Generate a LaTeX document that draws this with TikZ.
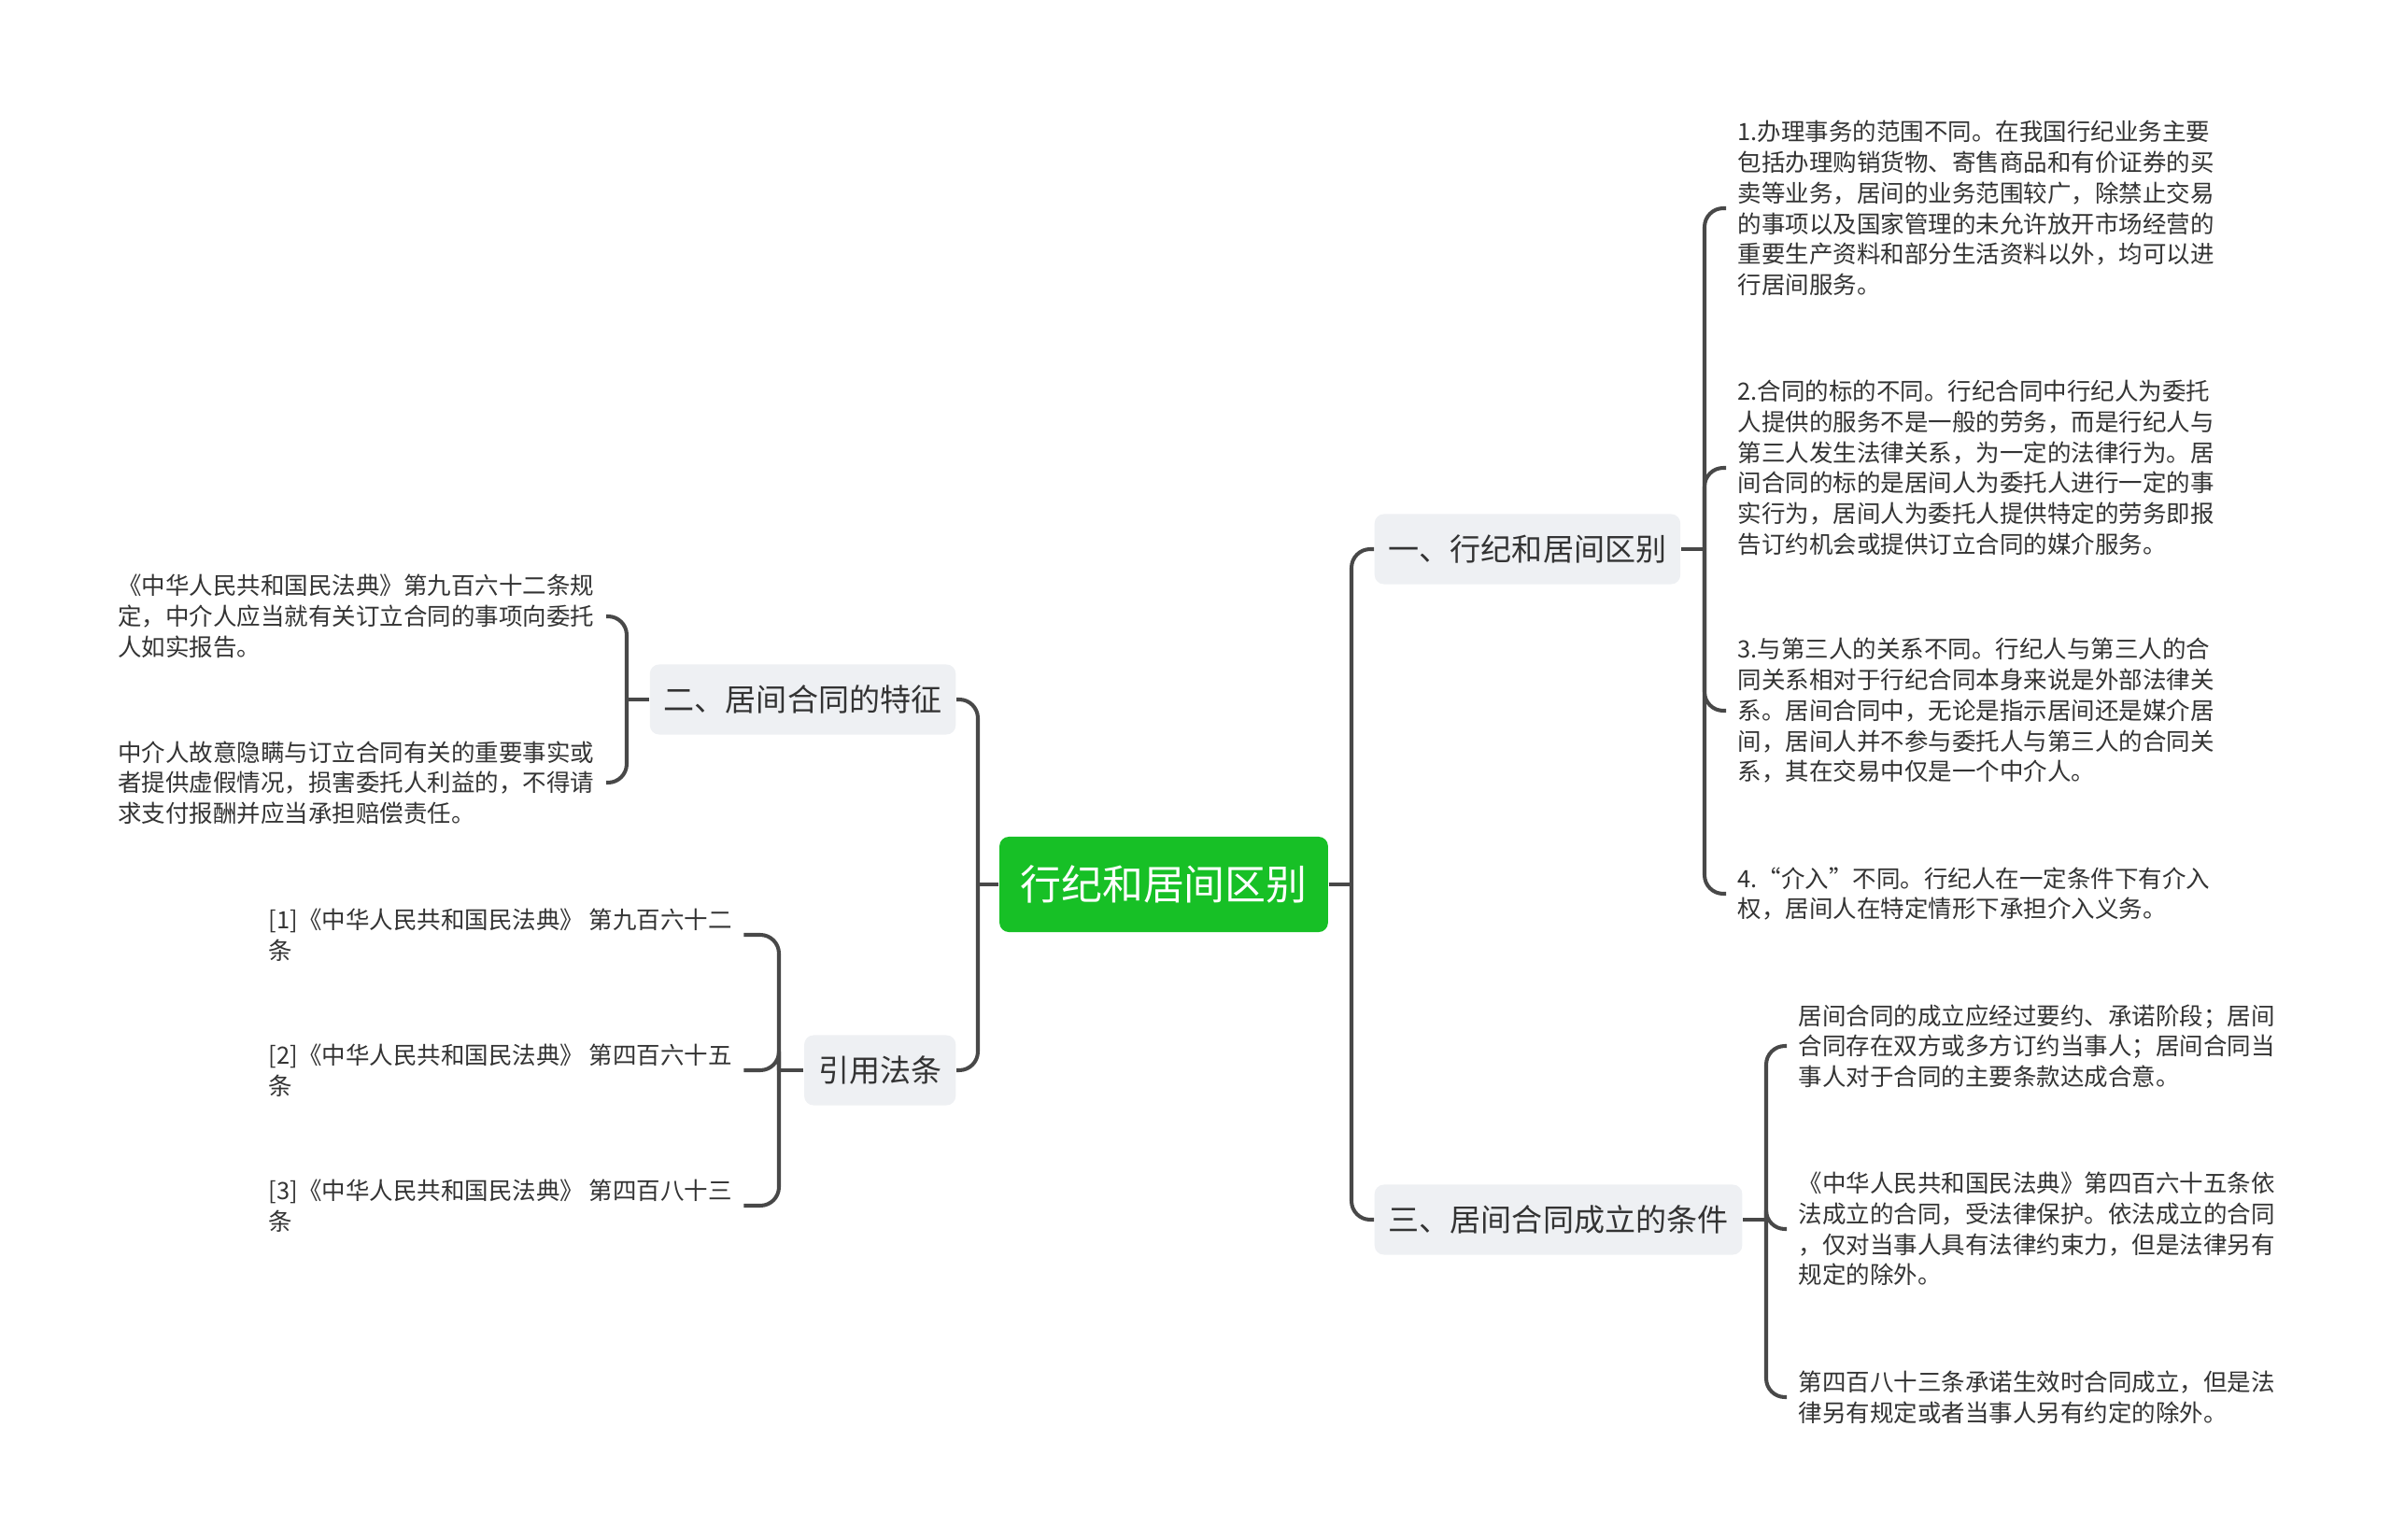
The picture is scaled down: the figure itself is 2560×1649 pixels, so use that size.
\documentclass[tikz,border=0pt]{standalone}
\usepackage{fontspec}
\setmainfont{Noto Sans CJK SC}
\usetikzlibrary{positioning}
\definecolor{rootgreen}{RGB}{23,192,38}
\definecolor{topicfill}{RGB}{238,240,243}
\definecolor{linkgray}{RGB}{72,72,72}
\definecolor{inkgray}{RGB}{51,51,51}

\tikzset{
  root/.style={fill=rootgreen, text=white, rounded corners=1mm, inner xsep=2.2mm,
    minimum height=10.2mm, font=\fontsize{12.5}{15}\selectfont},
  topic/.style={fill=topicfill, text=inkgray, rounded corners=1mm, inner xsep=1.5mm,
    minimum height=7.5mm, font=\fontsize{9.4}{11}\selectfont},
  leaf/.style={text=inkgray, align=left, inner xsep=1.2mm, inner ysep=0pt,
    font=\fontsize{7.25}{9.3}\selectfont},
  link/.style={draw=linkgray, line width=1.15pt, rounded corners=2mm},
}

\begin{document}
\begin{tikzpicture}[x=0.01cm, y=-0.01cm]
\useasboundingbox (0,0) rectangle (2560,1649);
% centre
\node[root] (root) at (1246,947) {行纪和居间区别};
\coordinate (rtrunk) at (1447,947);
\coordinate (ltrunk) at (1047,947);
\draw[link] (root.east) -- (rtrunk);
\draw[link] (root.west) -- (ltrunk);

% main topics
\node[topic, anchor=west] (diff) at (1471,588) {一、行纪和居间区别};
\node[topic, anchor=east] (feat) at (1024,749) {二、居间合同的特征};
\node[topic, anchor=west] (cond) at (1471,1306) {三、居间合同成立的条件};
\node[topic, anchor=east] (laws) at (1024,1146) {引用法条};
\foreach \t in {diff,cond} \draw[link] (rtrunk) |- (\t.west);
\foreach \t in {feat,laws} \draw[link] (ltrunk) |- (\t.east);

% 一
\coordinate (diffbrk) at (1825,588);
\draw[link] (diff.east) -- (diffbrk);
\node[leaf, anchor=west] (diff1) at (1848,223) {1.办理事务的范围不同。在我国行纪业务主要\\包括办理购销货物、寄售商品和有价证券的买\\卖等业务，居间的业务范围较广，除禁止交易\\的事项以及国家管理的未允许放开市场经营的\\重要生产资料和部分生活资料以外，均可以进\\行居间服务。};
\node[leaf, anchor=west] (diff2) at (1848,501) {2.合同的标的不同。行纪合同中行纪人为委托\\人提供的服务不是一般的劳务，而是行纪人与\\第三人发生法律关系，为一定的法律行为。居\\间合同的标的是居间人为委托人进行一定的事\\实行为，居间人为委托人提供特定的劳务即报\\告订约机会或提供订立合同的媒介服务。};
\node[leaf, anchor=west] (diff3) at (1848,761) {3.与第三人的关系不同。行纪人与第三人的合\\同关系相对于行纪合同本身来说是外部法律关\\系。居间合同中，无论是指示居间还是媒介居\\间，居间人并不参与委托人与第三人的合同关\\系，其在交易中仅是一个中介人。};
\node[leaf, anchor=west] (diff4) at (1848,957) {4.“介入”不同。行纪人在一定条件下有介入\\权，居间人在特定情形下承担介入义务。};
\foreach \l in {diff1,diff2,diff3,diff4} \draw[link] (diffbrk) |- (\l.west);

% 三
\coordinate (condbrk) at (1891,1306);
\draw[link] (cond.east) -- (condbrk);
\node[leaf, anchor=west] (cond1) at (1913,1120) {居间合同的成立应经过要约、承诺阶段；居间\\合同存在双方或多方订约当事人；居间合同当\\事人对于合同的主要条款达成合意。};
\node[leaf, anchor=west] (cond2) at (1913,1316) {《中华人民共和国民法典》第四百六十五条依\\法成立的合同，受法律保护。依法成立的合同\\，仅对当事人具有法律约束力，但是法律另有\\规定的除外。};
\node[leaf, anchor=west] (cond3) at (1913,1496) {第四百八十三条承诺生效时合同成立，但是法\\律另有规定或者当事人另有约定的除外。};
\foreach \l in {cond1,cond2,cond3} \draw[link] (condbrk) |- (\l.west);

% 二
\coordinate (featbrk) at (671,749);
\draw[link] (feat.west) -- (featbrk);
\node[leaf, anchor=east] (feat1) at (649,660) {《中华人民共和国民法典》第九百六十二条规\\定，中介人应当就有关订立合同的事项向委托\\人如实报告。};
\node[leaf, anchor=east] (feat2) at (649,838) {中介人故意隐瞒与订立合同有关的重要事实或\\者提供虚假情况，损害委托人利益的，不得请\\求支付报酬并应当承担赔偿责任。};
\foreach \l in {feat1,feat2} \draw[link] (featbrk) |- (\l.east);

% 引用法条
\coordinate (lawsbrk) at (834,1146);
\draw[link] (laws.west) -- (lawsbrk);
\node[leaf, anchor=west] (law1) at (275,1001) {[1]《中华人民共和国民法典》 第九百六十二\\条};
\node[leaf, anchor=west] (law2) at (275,1146) {[2]《中华人民共和国民法典》 第四百六十五\\条};
\node[leaf, anchor=west] (law3) at (275,1291) {[3]《中华人民共和国民法典》 第四百八十三\\条};
\foreach \l in {law1,law2,law3} \draw[link] (lawsbrk) |- (\l.east);
\end{tikzpicture}
\end{document}
